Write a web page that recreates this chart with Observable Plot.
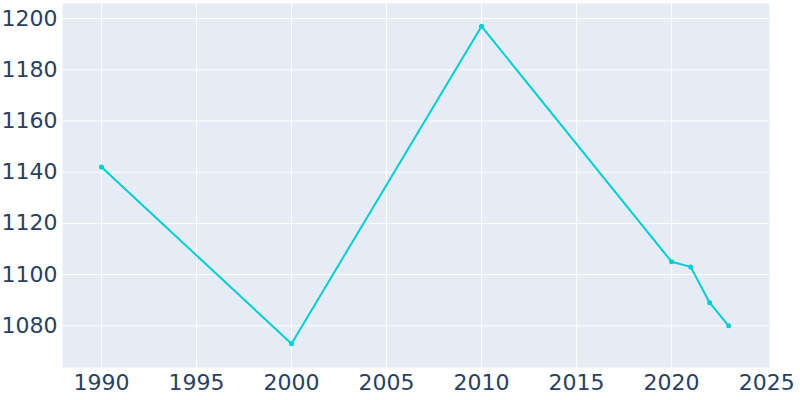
<!DOCTYPE html>
<html>
<head>
<meta charset="utf-8">
<script src="https://cdn.jsdelivr.net/npm/d3@7"></script>
<script src="https://cdn.jsdelivr.net/npm/@observablehq/plot@0.6"></script>
<style>
  html, body { margin: 0; padding: 0; background: #fff; }
  #chart svg { display: block; }
</style>
</head>
<body>
<div id="chart"></div>
<script>
const years = [1990, 2000, 2010, 2020, 2021, 2022, 2023];
const population = [1142, 1073, 1197, 1105, 1103, 1089, 1080];
const xTicks = [1990, 1995, 2000, 2005, 2010, 2015, 2020, 2025];
const xGrid = [1990, 1995, 2000, 2005, 2010, 2015, 2020];
const yTicks = [1080, 1100, 1120, 1140, 1160, 1180, 1200];

const data = years.map((y, i) => ({ year: y, value: population[i] }));

const chart = Plot.plot({
  width: 800,
  height: 400,
  marginLeft: 62,
  marginRight: 31,
  marginTop: 3,
  marginBottom: 33,
  style: { fontFamily: "DejaVu Sans", fontSize: "22px", color: "#2a3f5f", background: "#fff" },
  x: { domain: [1987.95, 2025.15], label: null },
  y: { domain: [1063.7, 1205.9], label: null },
  marks: [
    Plot.frame({ fill: "#e5ecf6", stroke: null }),
    Plot.gridX(xGrid, { stroke: "#fff", strokeOpacity: 1, strokeWidth: 1 }),
    Plot.gridY(yTicks, { stroke: "#fff", strokeOpacity: 1, strokeWidth: 1 }),
    Plot.axisX(xTicks, { tickSize: 0, tickPadding: 7, tickFormat: d => String(d), fill: "#2a3f5f" }),
    Plot.axisY(yTicks, { tickSize: 0, tickPadding: 5, tickFormat: d => String(d), fill: "#2a3f5f" }),
    Plot.line(data, { x: "year", y: "value", stroke: "#00ced1", strokeWidth: 2 }),
    Plot.dot(data, { x: "year", y: "value", fill: "#00ced1", r: 2.5, stroke: null })
  ]
});
document.getElementById("chart").appendChild(chart);
</script>
</body>
</html>
